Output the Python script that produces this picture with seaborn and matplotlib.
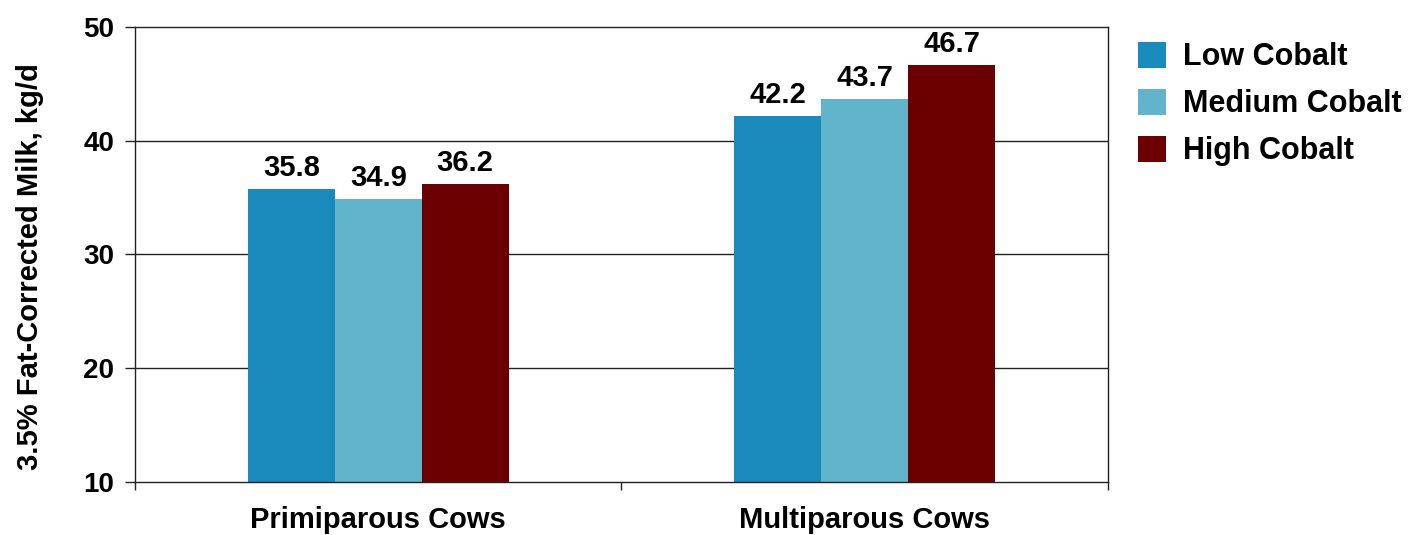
import matplotlib
matplotlib.use("Agg")
import matplotlib.pyplot as plt
from matplotlib.ticker import FixedLocator, NullFormatter
import seaborn as sns
import pandas as pd

# Milk yield by parity group and cobalt level
groups = ["Primiparous Cows", "Multiparous Cows"]
treatments = ["Low Cobalt", "Medium Cobalt", "High Cobalt"]
low_cobalt = [35.8, 42.2]
medium_cobalt = [34.9, 43.7]
high_cobalt = [36.2, 46.7]
y_ticks = [10, 20, 30, 40, 50]
y_label = "3.5% Fat-Corrected Milk, kg/d"

colors = ["#1a8abd", "#62b3cc", "#6b0000"]

df = pd.DataFrame({
    "group": groups * 3,
    "treatment": [t for t in treatments for _ in groups],
    "value": low_cobalt + medium_cobalt + high_cobalt,
})

sns.set_theme(style="white")
plt.rcParams["font.family"] = ["Liberation Sans", "DejaVu Sans"]
plt.rcParams["font.weight"] = "bold"
plt.rcParams["text.color"] = "black"
plt.rcParams["axes.labelcolor"] = "black"
plt.rcParams["xtick.color"] = "black"
plt.rcParams["ytick.color"] = "black"

fig = plt.figure(figsize=(14.16, 5.35), dpi=100)
ax = fig.add_axes([0.0953, 0.0991, 0.6872, 0.8504])

sns.barplot(data=df, x="group", y="value", hue="treatment",
            order=groups, hue_order=treatments, palette=colors,
            width=0.536, gap=0, linewidth=0, saturation=1,
            errorbar=None, ax=ax)

ax.set_ylim(10, 50)
ax.set_xlim(-0.5, 1.5)
ax.set_yticks(y_ticks)
ax.set_yticklabels([str(v) for v in y_ticks], fontsize=20, fontweight="bold")
ax.set_xticklabels(groups, fontsize=21, fontweight="bold")
ax.set_xlabel("")
ax.set_ylabel(y_label, fontsize=21, fontweight="bold")
ax.yaxis.set_label_coords(-0.093, 0.473)

# horizontal reference lines
for v in [20, 30, 40]:
    ax.axhline(v, color="#222222", linewidth=1.0, zorder=0)

for sp in ax.spines.values():
    sp.set_color("#222222")
    sp.set_linewidth(1.0)

ax.tick_params(axis="y", which="major", direction="out", length=7, width=1,
               color="#222222", pad=8, left=True)
ax.tick_params(axis="x", which="major", length=0, pad=17.5)
ax.xaxis.set_minor_locator(FixedLocator([-0.5, 0.5, 1.5]))
ax.xaxis.set_minor_formatter(NullFormatter())
ax.tick_params(axis="x", which="minor", direction="out", length=6, width=1,
               color="#222222", bottom=True)

for container in ax.containers:
    ax.bar_label(container, fmt="%.1f", padding=5, fontsize=21,
                 fontweight="bold", color="black")

handles, labels = ax.get_legend_handles_labels()
ax.legend(handles, labels, loc="upper left", bbox_to_anchor=(0.7953, 0.944),
          bbox_transform=fig.transFigure, frameon=False,
          handlelength=0.9, handleheight=0.9, handletextpad=0.55,
          labelspacing=0.55, borderaxespad=0, prop={"weight": "bold", "size": 22})

fig.savefig("out.png", dpi=100, facecolor="white")
